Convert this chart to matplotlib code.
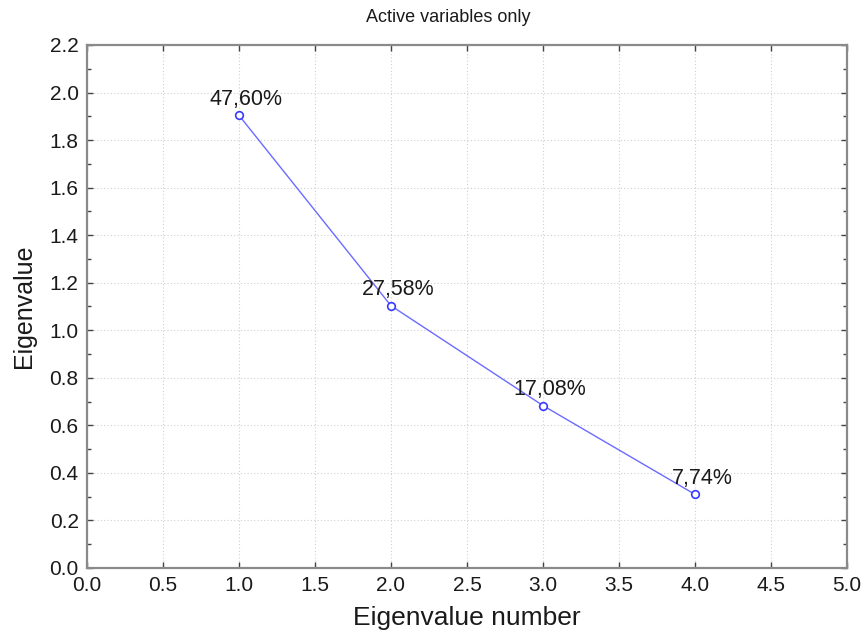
import matplotlib
matplotlib.use('Agg')
import matplotlib.pyplot as plt
from matplotlib.ticker import MultipleLocator, FormatStrFormatter
from matplotlib import font_manager


# eigenvalues of the active variables and their share of total variance
eig_num    = [1, 2, 3, 4]
eig_val    = [1.904, 1.1032, 0.6832, 0.3096]
eig_pct    = ['47,60%', '27,58%', '17,08%', '7,74%']

names      = {f.name for f in font_manager.fontManager.ttflist}
base_font  = 'Liberation Sans' if 'Liberation Sans' in names else 'DejaVu Sans'
narrow     = 'Liberation Sans Narrow' if 'Liberation Sans Narrow' in names else base_font
plt.rcParams['font.family'] = base_font

line_col   = '#6b6bff'
spine_col  = '#8a8a8a'


fig = plt.figure(figsize=(8.64, 6.41), dpi=100)
ax  = fig.add_axes([0.1007, 0.1139, 0.8796, 0.8159])

ax.plot(eig_num, eig_val, '-o', color=line_col, lw=1.0, ms=5.5,
		mfc='white', mec='#3a3aff', mew=1.2, zorder=3)
for x, y, s in zip(eig_num, eig_val, eig_pct):
	ax.annotate(s, (x, y), xytext=(5, 4), textcoords='offset points',
				ha='center', va='bottom', fontsize=15.5, color='#1a1a1a', zorder=4)

ax.set_xlim(0, 5)
ax.set_ylim(0, 2.2)
ax.xaxis.set_major_locator(MultipleLocator(0.5))
ax.yaxis.set_major_locator(MultipleLocator(0.2))
ax.yaxis.set_minor_locator(MultipleLocator(0.1))
ax.xaxis.set_major_formatter(FormatStrFormatter('%.1f'))
ax.yaxis.set_major_formatter(FormatStrFormatter('%.1f'))

ax.grid(True, which='major', ls=(0, (1, 2)), color='#d0d0d0', lw=0.8)
for sp in ax.spines.values():
	sp.set_color(spine_col)
	sp.set_linewidth(1.6)

ax.tick_params(which='both', direction='in', top=True, right=True, color='#444444')
ax.tick_params(which='major', length=4, width=1.0, pad=6)
ax.tick_params(which='minor', length=3, width=1.0)
ax.tick_params(axis='both', labelsize=15, colors='#1a1a1a')
for lab in ax.get_xticklabels():
	lab.set_fontfamily(narrow)
ax.tick_params(axis='both', which='both', color='#444444')

ax.set_xlabel('Eigenvalue number', fontsize=19, color='#1a1a1a', labelpad=8,
			  fontfamily=narrow)
ax.set_ylabel('Eigenvalue', fontsize=18, color='#1a1a1a', labelpad=10)
fig.text(448 / 864, 1 - 18 / 641, 'Active variables only', ha='center', va='center',
		 fontsize=13, color='#1a1a1a')

fig.savefig('out.png', dpi=100)
